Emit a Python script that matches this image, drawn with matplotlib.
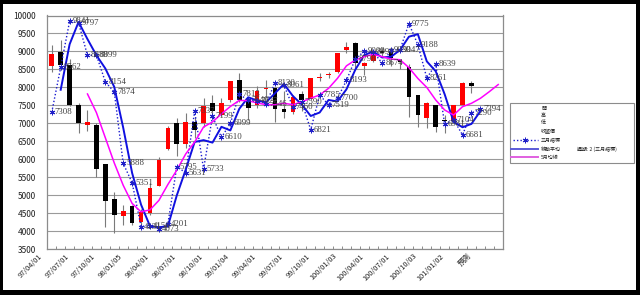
import numpy as np
import matplotlib
matplotlib.use("Agg")
import matplotlib.pyplot as plt
from matplotlib.patches import Rectangle
from matplotlib.lines import Line2D
from matplotlib.transforms import ScaledTranslation

# ── data (monthly, 97/04 .. 101/03, then forecast slots) ──
tick_labels = ["97/04/01", "97/07/01", "97/10/01", "98/01/05", "98/04/01", "98/07/01",
               "98/10/01", "99/01/04", "99/04/01", "99/07/01", "99/10/01", "100/01/03",
               "100/04/01", "100/07/01", "100/10/03", "101/01/02", "預測"]
n_slots = 51

opens = [8604, 8990, 8620, 7520, 6960, 6960, 5860, 4900, 4430, 4700, 4260, 4520,
         5270, 6290, 7020, 6430, 7050, 7020, 7560, 7240, 7650, 8200, 7650, 7500,
         7950, 7976, 7400, 7326, 7810, 7679, 8250, 8340, 8438, 9041, 9227, 8604,
         8735, 9000, 8994, 8750, 8577, 7790, 7142, 7512, 7100, 7076, 7512, 8133]
highs = [9180, 9310, 8800, 7560, 7370, 7000, 5880, 5080, 4730, 4720, 4620, 5330,
         6070, 6920, 7140, 7280, 7190, 7700, 7790, 7700, 8190, 8390, 7700, 8040,
         8220, 8020, 7900, 7800, 7900, 8260, 8390, 8430, 8960, 9260, 9250, 8720,
         8990, 9100, 9050, 8800, 8650, 7800, 7600, 7520, 7234, 7512, 8140, 8170]
lows = [8440, 8600, 7480, 6730, 6800, 5520, 4110, 3950, 4180, 4170, 4130, 4460,
        5260, 6270, 6090, 6330, 6600, 6900, 7120, 7200, 7600, 7600, 7090, 7440,
        7700, 7048, 7140, 7250, 7350, 7650, 8180, 8250, 8400, 8950, 8530, 8346,
        8700, 8850, 8600, 8500, 7187, 6909, 6870, 6770, 6730, 7000, 7500, 7837]
closes = [8920, 8620, 7520, 7020, 7030, 5720, 4850, 4460, 4565, 4240, 4540, 5200,
          5980, 6880, 6430, 7050, 6820, 7480, 7345, 7560, 8190, 7650, 7440, 7905,
          7995, 7395, 7330, 7743, 7651, 8254, 8290, 8365, 8949, 9133, 8671, 8671,
          8949, 8960, 8810, 8700, 7743, 7234, 7558, 6909, 7060, 7512, 8133, 8040]

# 三月指標 (dotted, labelled), slots 0..48
indicator = [7308, 8562, 9841, 9797, 8889, 8899, 8154, 7874, 5888, 5351, 4131, 4156,
             4073, 4201, 5795, 5631, 7337, 5733, 7199, 6610, 6999, 7813, 7640, 7627,
             7546, 8130, 8061, 7460, 7590, 6821, 7785, 7519, 7700, 8193, 8798, 9003,
             8990, 8674, 9033, 9047, 9775, 9188, 8261, 8639, 6981, 7104, 6681, 7290, 7394]

# 移動平均 週期 2 (三月指標), slots 1..48
ma2 = [7935, 9201, 9819, 9343, 8894, 8527, 8014, 6881, 5620, 4741, 4144, 4115,
       4137, 4998, 5713, 6484, 6535, 6466, 6905, 6805, 7406, 7727, 7634, 7587,
       7838, 8096, 7761, 7525, 7206, 7303, 7652, 7610, 7947, 8496, 8901, 8997,
       8832, 8854, 9040, 9411, 9481, 8725, 8450, 7810, 7043, 6893, 6986, 7342]

# 5月均線, slots 4..50
ma5 = [7818, 7300, 6600, 5900, 5280, 4775, 4540, 4597, 4860, 5300, 5700, 6150,
       6480, 6900, 7040, 7265, 7470, 7640, 7630, 7570, 7520, 7520, 7560, 7520,
       7600, 7700, 7790, 7976, 8254, 8600, 8763, 8855, 8921, 8855, 8790, 8770,
       8550, 8250, 8000, 7651, 7373, 7234, 7465, 7559, 7697, 7882, 8080]

W, H = 640, 295
fig = plt.figure(figsize=(W / 100, H / 100), dpi=100)
fig.patch.set_facecolor("white")

ax = fig.add_axes([47.3 / W, 1 - 249.3 / H, 455.4 / W, 233.8 / H])
ax.set_xlim(-0.5, n_slots - 0.5)
ax.set_ylim(3500, 10000)

# candles
x_c = np.arange(len(closes))
o = np.array(opens); c = np.array(closes)
ax.vlines(x_c, lows, highs, color="#7a7a7a", lw=0.8, zorder=2)
up = c >= o
body_h = np.maximum(np.abs(c - o), 25)
ax.bar(x_c, body_h, bottom=np.minimum(o, c), width=0.52,
       color=np.where(up, "#ff0000", "#000000"), linewidth=0, zorder=3)

# lines
x_i = np.arange(len(indicator))
ax.plot(x_i, indicator, color="#1a1ad0", ls=(0, (1, 1.5)), lw=1.0, zorder=4)
ax.plot(x_i, indicator, ls="none", marker=(6, 2, 0), ms=4, mew=0.7,
        mec="#2020c8", zorder=5)
ax.plot(np.arange(1, 1 + len(ma2)), ma2, color="#1010e0", lw=1.4, zorder=4)
ax.plot(np.arange(4, 4 + len(ma5)), ma5, color="#ff00ff", lw=1.1, zorder=4)

lbl_off = ScaledTranslation(3 / 100, 0, fig.dpi_scale_trans)
for xi, v in zip(x_i, indicator):
    ax.text(xi, v, str(v), transform=ax.transData + lbl_off, ha="left", va="center",
            fontsize=6.3, family="Liberation Serif", color="#404040", zorder=6)

# axes styling
ax.set_yticks(np.arange(3500, 10001, 500))
ax.yaxis.grid(True, color="#9a9a9a", lw=0.8)
ax.set_axisbelow(True)
ax.tick_params(axis="y", length=0, pad=8, labelsize=6, colors="#202020")
for lab in ax.get_yticklabels():
    lab.set_family("Noto Sans CJK TC")
for sp in ax.spines.values():
    sp.set_color("#8c8c8c")
    sp.set_linewidth(0.9)

tick_pos = list(range(0, 46, 3)) + [48]
ax.set_xticks(tick_pos)
ax.set_xticklabels(tick_labels, rotation=45, ha="right", va="top",
                   fontsize=5.3, family=["Noto Sans CJK TC", "DejaVu Sans"], color="#202020")
ax.tick_params(axis="x", which="major", length=0, pad=2)
ax.set_xticks(np.arange(-0.5, n_slots, 1), minor=True)
ax.tick_params(axis="x", which="minor", direction="in", length=2.5, color="#8c8c8c", width=0.7)
shift = ScaledTranslation(-8 / 100, 0, fig.dpi_scale_trans)
for lab in ax.get_xticklabels():
    lab.set_transform(lab.get_transform() + shift)

# overlay in pixel coords for legend and frame
ov = fig.add_axes([0, 0, 1, 1], facecolor="none")
ov.set_xlim(0, W); ov.set_ylim(H, 0); ov.axis("off")

ov.add_patch(Rectangle((510, 103.3), 124, 60, fill=False, ec="#8c8c8c", lw=0.8))
leg_font = dict(fontsize=3.6, family="Noto Sans CJK TC", color="#202020", va="center")
rows = [("開", 108.3), ("高", 115.0), ("低", 122.0), ("收盤價", 130.7),
        ("三月指標", 140.0), ("移動平均", 149.0), ("5月均線", 157.3)]
for txt, yy in rows:
    ov.text(541, yy, txt, **leg_font)
ov.text(577, 149.0, "週期: 2 (三月指標)", **leg_font)
ov.add_line(Line2D([513, 538], [140, 140], color="#1a1ad0", ls=(0, (1, 1.5)), lw=1.0))
ov.add_line(Line2D([525], [140], marker=(6, 2, 0), ms=4, mew=0.7, mec="#2020c8", ls="none"))
ov.add_line(Line2D([511, 538], [149, 149], color="#5a5ad8", lw=1.4))
ov.add_line(Line2D([511, 538], [157.3, 157.3], color="#e060e0", lw=1.4))

# black outer frame
for rx, ry, rw, rh in [(0, 0, W, 4), (0, 290, W, 5), (0, 0, 3, H), (636, 0, 4, H)]:
    ov.add_patch(Rectangle((rx, ry), rw, rh, color="black", lw=0))

fig.savefig("out.png", dpi=100)
